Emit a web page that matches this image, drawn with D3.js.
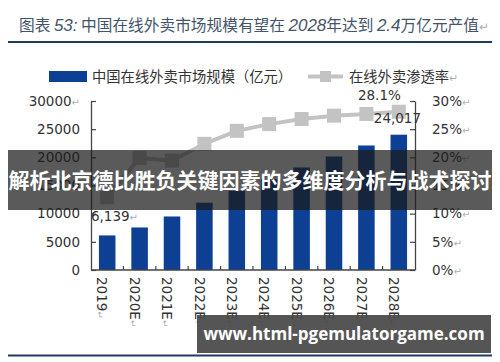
<!DOCTYPE html>
<html>
<head>
<meta charset="utf-8">
<script src="https://cdn.jsdelivr.net/npm/d3@7"></script>
<style>
  html, body { margin: 0; padding: 0; background: #fff; }
  svg { display: block; }
</style>
</head>
<body>
<svg id="chart" width="500" height="362"></svg>
<script>
// chart data
var years = ['2019', '2020E', '2021E', '2022E', '2023E', '2024E', '2025E', '2026E', '2027E', '2028E'];
var marketSize = [6139, 7550, 9500, 11950, 14050, 16150, 18200, 20150, 22100, 24017];   // 亿元
var penetration = [12.9, 19.9, 19.4, 22.4, 24.7, 25.9, 26.8, 27.4, 27.7, 28.1];          // %
var leftTicks = [0, 5000, 10000, 15000, 20000, 25000, 30000];
var rightTicks = [0, 5, 10, 15, 20, 25, 30];

var svg = d3.select('#chart');
var cjk = '"Noto Sans CJK SC", "Noto Sans", sans-serif';
var num = '"DejaVu Sans", Verdana, sans-serif';
var barColor = '#0d3f93';
var lineColor = '#c3c3c3';
var axisColor = '#444';
var retColor = '#b0b0b0';

// scales
var x = d3.scaleBand().domain(years).range([91, 415]).paddingInner(0.49).paddingOuter(0.245);
var yL = d3.scaleLinear().domain([0, 30000]).range([270, 101]);
var yR = d3.scaleLinear().domain([0, 30]).range([270, 101]);
var cx = function(d) { return x(d) + x.bandwidth() / 2; };

/* title */
var title = svg.append('text')
  .attr('x', 19).attr('y', 31)
  .attr('font-family', cjk).attr('font-size', '15.7px')
  .attr('fill', '#44546a');
var italicNum = function(t) {
  title.append('tspan').attr('font-style', 'italic').attr('font-size', '17px')
    .attr('font-family', '"Liberation Sans", Arial, sans-serif').text(t);
};
title.append('tspan').text('图表 ');
italicNum('53:');
title.append('tspan').text(' 中国在线外卖市场规模有望在 ');
italicNum('2028');
title.append('tspan').text('年达到 ');
italicNum('2.4');
title.append('tspan').text('万亿元产值');
title.append('tspan').attr('fill', retColor).attr('font-size', '12px').text('↵');

svg.append('line')
  .attr('x1', 8).attr('x2', 492).attr('y1', 42).attr('y2', 42)
  .attr('stroke', '#1f3a64').attr('stroke-width', 2);

/* legend */
svg.append('rect')
  .attr('x', 49).attr('y', 71).attr('width', 38).attr('height', 11)
  .attr('fill', barColor);
svg.append('text')
  .attr('x', 92).attr('y', 81.5)
  .attr('font-family', cjk).attr('font-size', '14.3px').attr('fill', '#333')
  .text('中国在线外卖市场规模（亿元）');

svg.append('line')
  .attr('x1', 308).attr('x2', 343).attr('y1', 76.5).attr('y2', 76.5)
  .attr('stroke', lineColor).attr('stroke-width', 4);
svg.append('rect')
  .attr('x', 320).attr('y', 71).attr('width', 11).attr('height', 11)
  .attr('fill', lineColor);
var lg2 = svg.append('text')
  .attr('x', 349).attr('y', 81.5)
  .attr('font-family', cjk).attr('font-size', '14.3px').attr('fill', '#333');
lg2.append('tspan').text('在线外卖渗透率');
lg2.append('tspan').attr('fill', retColor).attr('font-size', '11px').text('↵');

/* bars */
svg.selectAll('rect.bar')
  .data(marketSize)
  .enter()
  .append('rect')
  .attr('class', 'bar')
  .attr('x', function(d, i) { return x(years[i]); })
  .attr('width', x.bandwidth())
  .attr('y', function(d) { return yL(d); })
  .attr('height', function(d) { return yL(0) - yL(d); })
  .attr('fill', barColor);

/* axes */
var leftAxis = d3.axisLeft(yL)
  .tickValues(leftTicks)
  .tickSizeInner(-5).tickSizeOuter(0).tickPadding(11)
  .tickFormat(d3.format('d'));
var gl = svg.append('g').attr('transform', 'translate(91,0)').call(leftAxis);

var rightAxis = d3.axisRight(yR)
  .tickValues(rightTicks)
  .tickSizeInner(-5).tickSizeOuter(0).tickPadding(17)
  .tickFormat(function(d) { return d + '%'; });
var gr = svg.append('g').attr('transform', 'translate(415,0)').call(rightAxis);

[gl, gr].forEach(function(g) {
  g.select('.domain').attr('stroke', axisColor).attr('stroke-width', 1.3);
  g.selectAll('.tick line').attr('stroke', axisColor).attr('stroke-width', 1.2);
  g.selectAll('.tick text')
    .attr('font-family', num).attr('font-size', '13.5px').attr('fill', '#333');
});
gr.selectAll('.tick text').append('tspan')
  .attr('fill', retColor).attr('font-size', '10px').text('↵');
gl.selectAll('.tick text').filter(function(d) { return d === 30000; })
  .append('tspan').attr('fill', retColor).attr('font-size', '10px').text('↵');

// x axis baseline and ticks between categories
svg.append('line')
  .attr('x1', 91).attr('x2', 415).attr('y1', yL(0)).attr('y2', yL(0))
  .attr('stroke', axisColor).attr('stroke-width', 1.3);
svg.selectAll('line.xtick')
  .data(years.slice(0, -1))
  .enter()
  .append('line')
  .attr('class', 'xtick')
  .attr('x1', function(d) { return x(d) + x.bandwidth() + (x.step() - x.bandwidth()) / 2; })
  .attr('x2', function(d) { return x(d) + x.bandwidth() + (x.step() - x.bandwidth()) / 2; })
  .attr('y1', yL(0)).attr('y2', yL(0) - 4)
  .attr('stroke', axisColor).attr('stroke-width', 1.2);

var xl = svg.selectAll('text.xlab')
  .data(years)
  .enter()
  .append('text')
  .attr('class', 'xlab')
  .attr('transform', function(d) { return 'translate(' + (cx(d) - 5) + ',277) rotate(90)'; })
  .attr('dy', '0.35em')
  .attr('font-family', num).attr('font-size', '13.5px').attr('fill', '#333');
xl.append('tspan').text(function(d) { return d; });
xl.append('tspan').attr('fill', retColor).attr('font-size', '9px').text('↵');

/* penetration line */
var line = d3.line()
  .x(function(d, i) { return cx(years[i]); })
  .y(function(d) { return yR(d); });
svg.append('path')
  .datum(penetration)
  .attr('d', line)
  .attr('fill', 'none')
  .attr('stroke', lineColor)
  .attr('stroke-width', 4);
svg.selectAll('rect.pt')
  .data(penetration)
  .enter()
  .append('rect')
  .attr('class', 'pt')
  .attr('x', function(d, i) { return cx(years[i]) - 7; })
  .attr('y', function(d) { return yR(d) - 7; })
  .attr('width', 14).attr('height', 14)
  .attr('fill', lineColor);

/* data labels */
var firstLab = svg.append('text')
  .attr('x', x(years[0]) - 8).attr('y', yL(marketSize[0]) - 14)
  .attr('font-family', num).attr('font-size', '13.5px').attr('fill', '#333');
firstLab.append('tspan').text(d3.format(',')(marketSize[0]));
firstLab.append('tspan').attr('fill', retColor).attr('font-size', '10px').text('↵');

var last = years.length - 1;
svg.append('text')
  .attr('x', x(years[last]) + x.bandwidth() + 14).attr('y', yL(marketSize[last]) - 12)
  .attr('text-anchor', 'end')
  .attr('font-family', num).attr('font-size', '13.5px').attr('fill', '#333')
  .text(d3.format(',')(marketSize[last]));
svg.append('text')
  .attr('x', cx(years[last]) + 2).attr('y', yR(penetration[last]) - 12)
  .attr('text-anchor', 'end')
  .attr('font-family', num).attr('font-size', '13.5px').attr('fill', '#333')
  .text(penetration[last] + '%');

/* bottom rule */
svg.append('line')
  .attr('x1', 8).attr('x2', 492).attr('y1', 355.5).attr('y2', 355.5)
  .attr('stroke', '#1f3a64').attr('stroke-width', 2);

/* overlay banner and watermark seen on the picture */
svg.append('rect')
  .attr('x', 8).attr('y', 150).attr('width', 484).attr('height', 60)
  .attr('fill', 'rgba(26,26,26,0.72)');
svg.append('text')
  .attr('x', 250).attr('y', 188)
  .attr('text-anchor', 'middle')
  .attr('font-family', cjk).attr('font-weight', 'bold').attr('font-size', '21px')
  .attr('fill', '#fff')
  .text('解析北京德比胜负关键因素的多维度分析与战术探讨');

svg.append('rect')
  .attr('x', 197).attr('y', 315).attr('width', 294).attr('height', 38)
  .attr('fill', 'rgba(70,70,70,0.92)');
svg.append('text')
  .attr('x', 344).attr('y', 340)
  .attr('text-anchor', 'middle')
  .attr('font-family', '"Open Sans", "DejaVu Sans", sans-serif').attr('font-weight', 'bold').attr('font-size', '17px')
  .attr('fill', '#fff')
  .text('www.html-pgemulatorgame.com');
</script>
</body>
</html>
